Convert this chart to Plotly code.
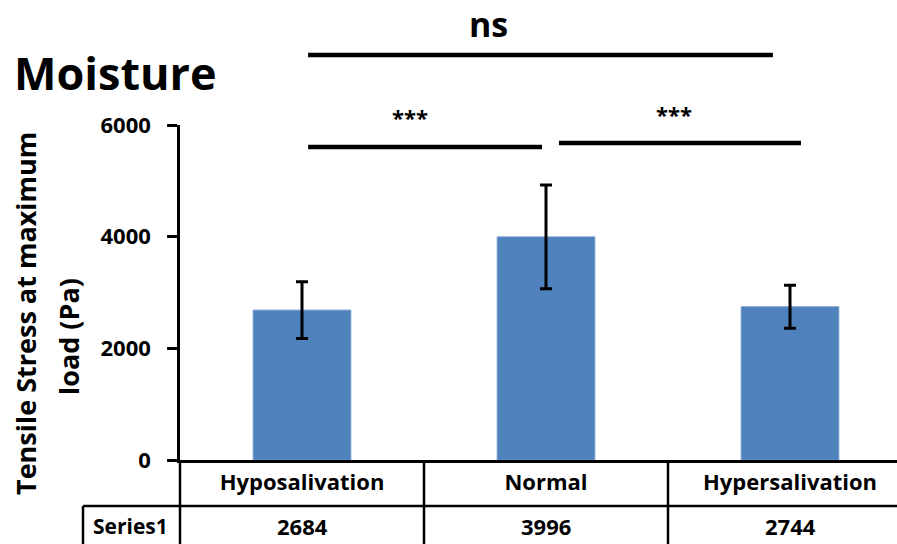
import plotly.graph_objects as go

categories = ["Hyposalivation", "Normal", "Hypersalivation"]
values = [2684, 3996, 2744]
errors = [510, 930, 385]
series_name = "Series1"
y_ticks = [0, 2000, 4000, 6000]
y_title_1 = "Tensile Stress at maximum"
y_title_2 = "load (Pa)"
chart_title = "Moisture"
# significance brackets: (x0, x1, y in data units)
sig_lines = [
    (0.025, 1.93, 7254),
    (0.025, 0.984, 5606),
    (1.053, 2.045, 5678),
]
sig_labels = [
    ("ns", 0.766, 7810, 34),
    ("***", 0.443, 6145, 22),
    ("***", 1.525, 6200, 22),
]

W, H = 897, 544
L, R, T, B = 180, 0, 125, 84
PW, PH = W - L - R, H - T - B
YMAX = 6000.0

def px_x(px):
    return (px - L) / PW

def px_y(py):
    return (H - B - py) / PH

FONT = "Open Sans"
BLACK = "#000000"

fig = go.Figure()
fig.add_trace(go.Bar(
    x=categories, y=values, name=series_name,
    marker=dict(color="#4F81BD", line=dict(width=1, color="#6F97C8")),
    error_y=dict(type="data", array=errors, visible=True,
                 color=BLACK, thickness=3, width=6),
))

shapes = []
for x0, x1, yv in sig_lines:
    shapes.append(dict(type="line", xref="x", yref="paper", x0=x0, x1=x1,
                       y0=yv / YMAX, y1=yv / YMAX,
                       line=dict(color=BLACK, width=4.5)))
tbl_bottom = px_y(H + 5)
row_line = px_y(506)
shapes.append(dict(type="line", xref="paper", yref="paper", x0=0, x1=0,
                   y0=0, y1=tbl_bottom, line=dict(color=BLACK, width=2.5)))
for xb in [0.5, 1.5]:
    shapes.append(dict(type="line", xref="x", yref="paper", x0=xb, x1=xb,
                       y0=0, y1=tbl_bottom, line=dict(color=BLACK, width=2.5)))
shapes.append(dict(type="line", xref="paper", yref="paper", x0=px_x(83), x1=1.0,
                   y0=row_line, y1=row_line, line=dict(color=BLACK, width=2.5)))
shapes.append(dict(type="line", xref="paper", yref="paper", x0=px_x(83), x1=px_x(83),
                   y0=row_line, y1=tbl_bottom, line=dict(color=BLACK, width=2.5)))

annotations = []
for txt, xv, yv, sz in sig_labels:
    annotations.append(dict(text=f"<b>{txt}</b>", xref="x", yref="paper", x=xv, y=yv / YMAX,
                            showarrow=False, xanchor="center", yanchor="middle",
                            font=dict(family=FONT, size=sz, color=BLACK)))
annotations.append(dict(text=f"<b>{chart_title}</b>", xref="paper", yref="paper",
                        x=px_x(12), y=px_y(73), xanchor="left", yanchor="middle",
                        showarrow=False, font=dict(family=FONT, size=45, color=BLACK)))
annotations.append(dict(text=f"<b>{y_title_1}</b>", xref="paper", yref="paper",
                        x=px_x(25), y=px_y(314), xanchor="center", yanchor="middle",
                        textangle=-90, showarrow=False,
                        font=dict(family=FONT, size=27, color=BLACK)))
annotations.append(dict(text=f"<b>{y_title_2}</b>", xref="paper", yref="paper",
                        x=px_x(68), y=px_y(337), xanchor="center", yanchor="middle",
                        textangle=-90, showarrow=False,
                        font=dict(family=FONT, size=27, color=BLACK)))
annotations.append(dict(text=f"<b>{series_name}</b>", xref="paper", yref="paper",
                        x=px_x(130), y=px_y(526), xanchor="center", yanchor="middle",
                        showarrow=False, font=dict(family=FONT, size=21, color=BLACK)))
for c, v in zip(categories, values):
    annotations.append(dict(text=f"<b>{v}</b>", xref="x", yref="paper",
                            x=c, y=px_y(526), xanchor="center", yanchor="middle",
                            showarrow=False, font=dict(family=FONT, size=22, color=BLACK)))

fig.update_layout(
    width=W, height=H,
    margin=dict(l=L, r=R, t=T, b=B, pad=0),
    paper_bgcolor="white", plot_bgcolor="white",
    showlegend=False,
    bargap=0.6,
    shapes=shapes,
    annotations=annotations,
    xaxis=dict(
        type="category", range=[-0.5, -0.5 + PW / 244.0],
        showline=True, linecolor=BLACK, linewidth=2.5,
        ticks="", showgrid=False, zeroline=False,
        tickfont=dict(family=FONT, size=22, color=BLACK),
        ticklabelstandoff=1,
        tickvals=categories, ticktext=[f"<b>{c}</b>" for c in categories],
    ),
    yaxis=dict(
        range=[0, YMAX], tickvals=y_ticks,
        ticktext=[f"<b>{t}</b>" for t in y_ticks],
        showline=True, linecolor=BLACK, linewidth=2.5,
        ticks="outside", ticklen=10, tickwidth=2.5, tickcolor=BLACK,
        showgrid=False, zeroline=False,
        tickfont=dict(family=FONT, size=22, color=BLACK),
        ticklabelstandoff=12,
    ),
)

fig.write_html("out.html")
